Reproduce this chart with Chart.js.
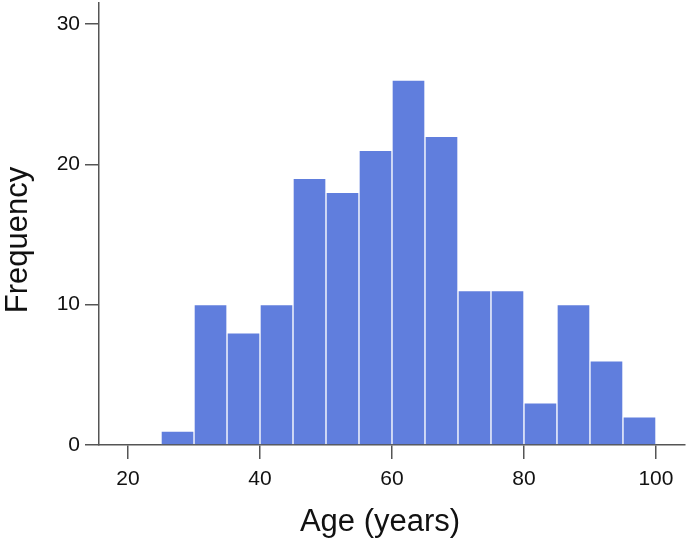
<!DOCTYPE html>
<html lang="en">
<head>
    <meta charset="UTF-8">
    <title>Age histogram</title>
    <script src="https://cdn.jsdelivr.net/npm/chart.js"></script>
    <style>
        html, body { margin: 0; padding: 0; background: #fff; }
        .chart-container { width: 689px; height: 542px; }
    </style>
</head>
<body>
    <div class="chart-container">
        <canvas id="ageChart"></canvas>
    </div>

    <script>
        // bin midpoints (5-year bins) and counts
        const ageBins = [27.5, 32.5, 37.5, 42.5, 47.5, 52.5, 57.5, 62.5, 67.5, 72.5, 77.5, 82.5, 87.5, 92.5, 97.5];
        const counts = [1, 10, 8, 10, 19, 18, 21, 26, 22, 11, 11, 3, 10, 6, 2];
        const xTicks = [20, 40, 60, 80, 100];
        const yTicks = [0, 10, 20, 30];

        const axisColor = '#555';
        const font = 'Liberation Sans, Arial, Helvetica, sans-serif';

        // axis titles sit a bit off the plot-area centre in the original
        const axisTitles = {
            id: 'axisTitles',
            afterDraw(chart) {
                const c = chart.ctx;
                const area = chart.chartArea;
                c.save();
                c.fillStyle = '#111';
                c.font = '31px ' + font;
                c.textAlign = 'center';
                c.textBaseline = 'middle';
                c.fillText('Age (years)', (area.left + area.right) / 2 - 12, 522);
                c.translate(18, (area.top + area.bottom) / 2 + 16);
                c.rotate(-Math.PI / 2);
                c.fillText('Frequency', 0, 0);
                c.restore();
            }
        };

        const ctx = document.getElementById('ageChart').getContext('2d');
        const ageChart = new Chart(ctx, {
            type: 'bar',
            data: {
                datasets: [{
                    data: ageBins.map((x, i) => ({ x: x, y: counts[i] })),
                    backgroundColor: 'rgb(96,126,221)',
                    borderColor: 'rgba(255,255,255,0.85)',
                    borderWidth: 1,
                    barPercentage: 1,
                    categoryPercentage: 1
                }]
            },
            options: {
                responsive: true,
                maintainAspectRatio: false,
                animation: false,
                layout: { padding: { top: 3, right: 4, left: 0, bottom: 0 } },
                plugins: {
                    legend: { display: false },
                    tooltip: { enabled: false }
                },
                scales: {
                    x: {
                        type: 'linear',
                        offset: false,
                        min: 15.6,
                        max: 104.4,
                        afterBuildTicks: s => { s.ticks = xTicks.map(v => ({ value: v })); },
                        afterFit: s => { s.height = 97; s.paddingLeft = 0; s.paddingRight = 0; },
                        border: { display: true, color: axisColor, width: 1.5 },
                        grid: { offset: false, drawOnChartArea: false, drawTicks: true, tickLength: 14, color: axisColor, lineWidth: 1.5 },
                        ticks: { color: '#111', padding: 8, font: { family: font, size: 21 } }
                    },
                    y: {
                        min: 0,
                        max: 31.5,
                        afterBuildTicks: s => { s.ticks = yTicks.map(v => ({ value: v })); },
                        afterFit: s => { s.width = 99; s.paddingTop = 0; s.paddingBottom = 0; },
                        border: { display: true, color: axisColor, width: 1.5 },
                        grid: { drawOnChartArea: false, drawTicks: true, tickLength: 14, color: axisColor, lineWidth: 1.5 },
                        ticks: { color: '#111', padding: 5, font: { family: font, size: 21 } }
                    }
                }
            },
            plugins: [axisTitles]
        });
    </script>
</body>
</html>
